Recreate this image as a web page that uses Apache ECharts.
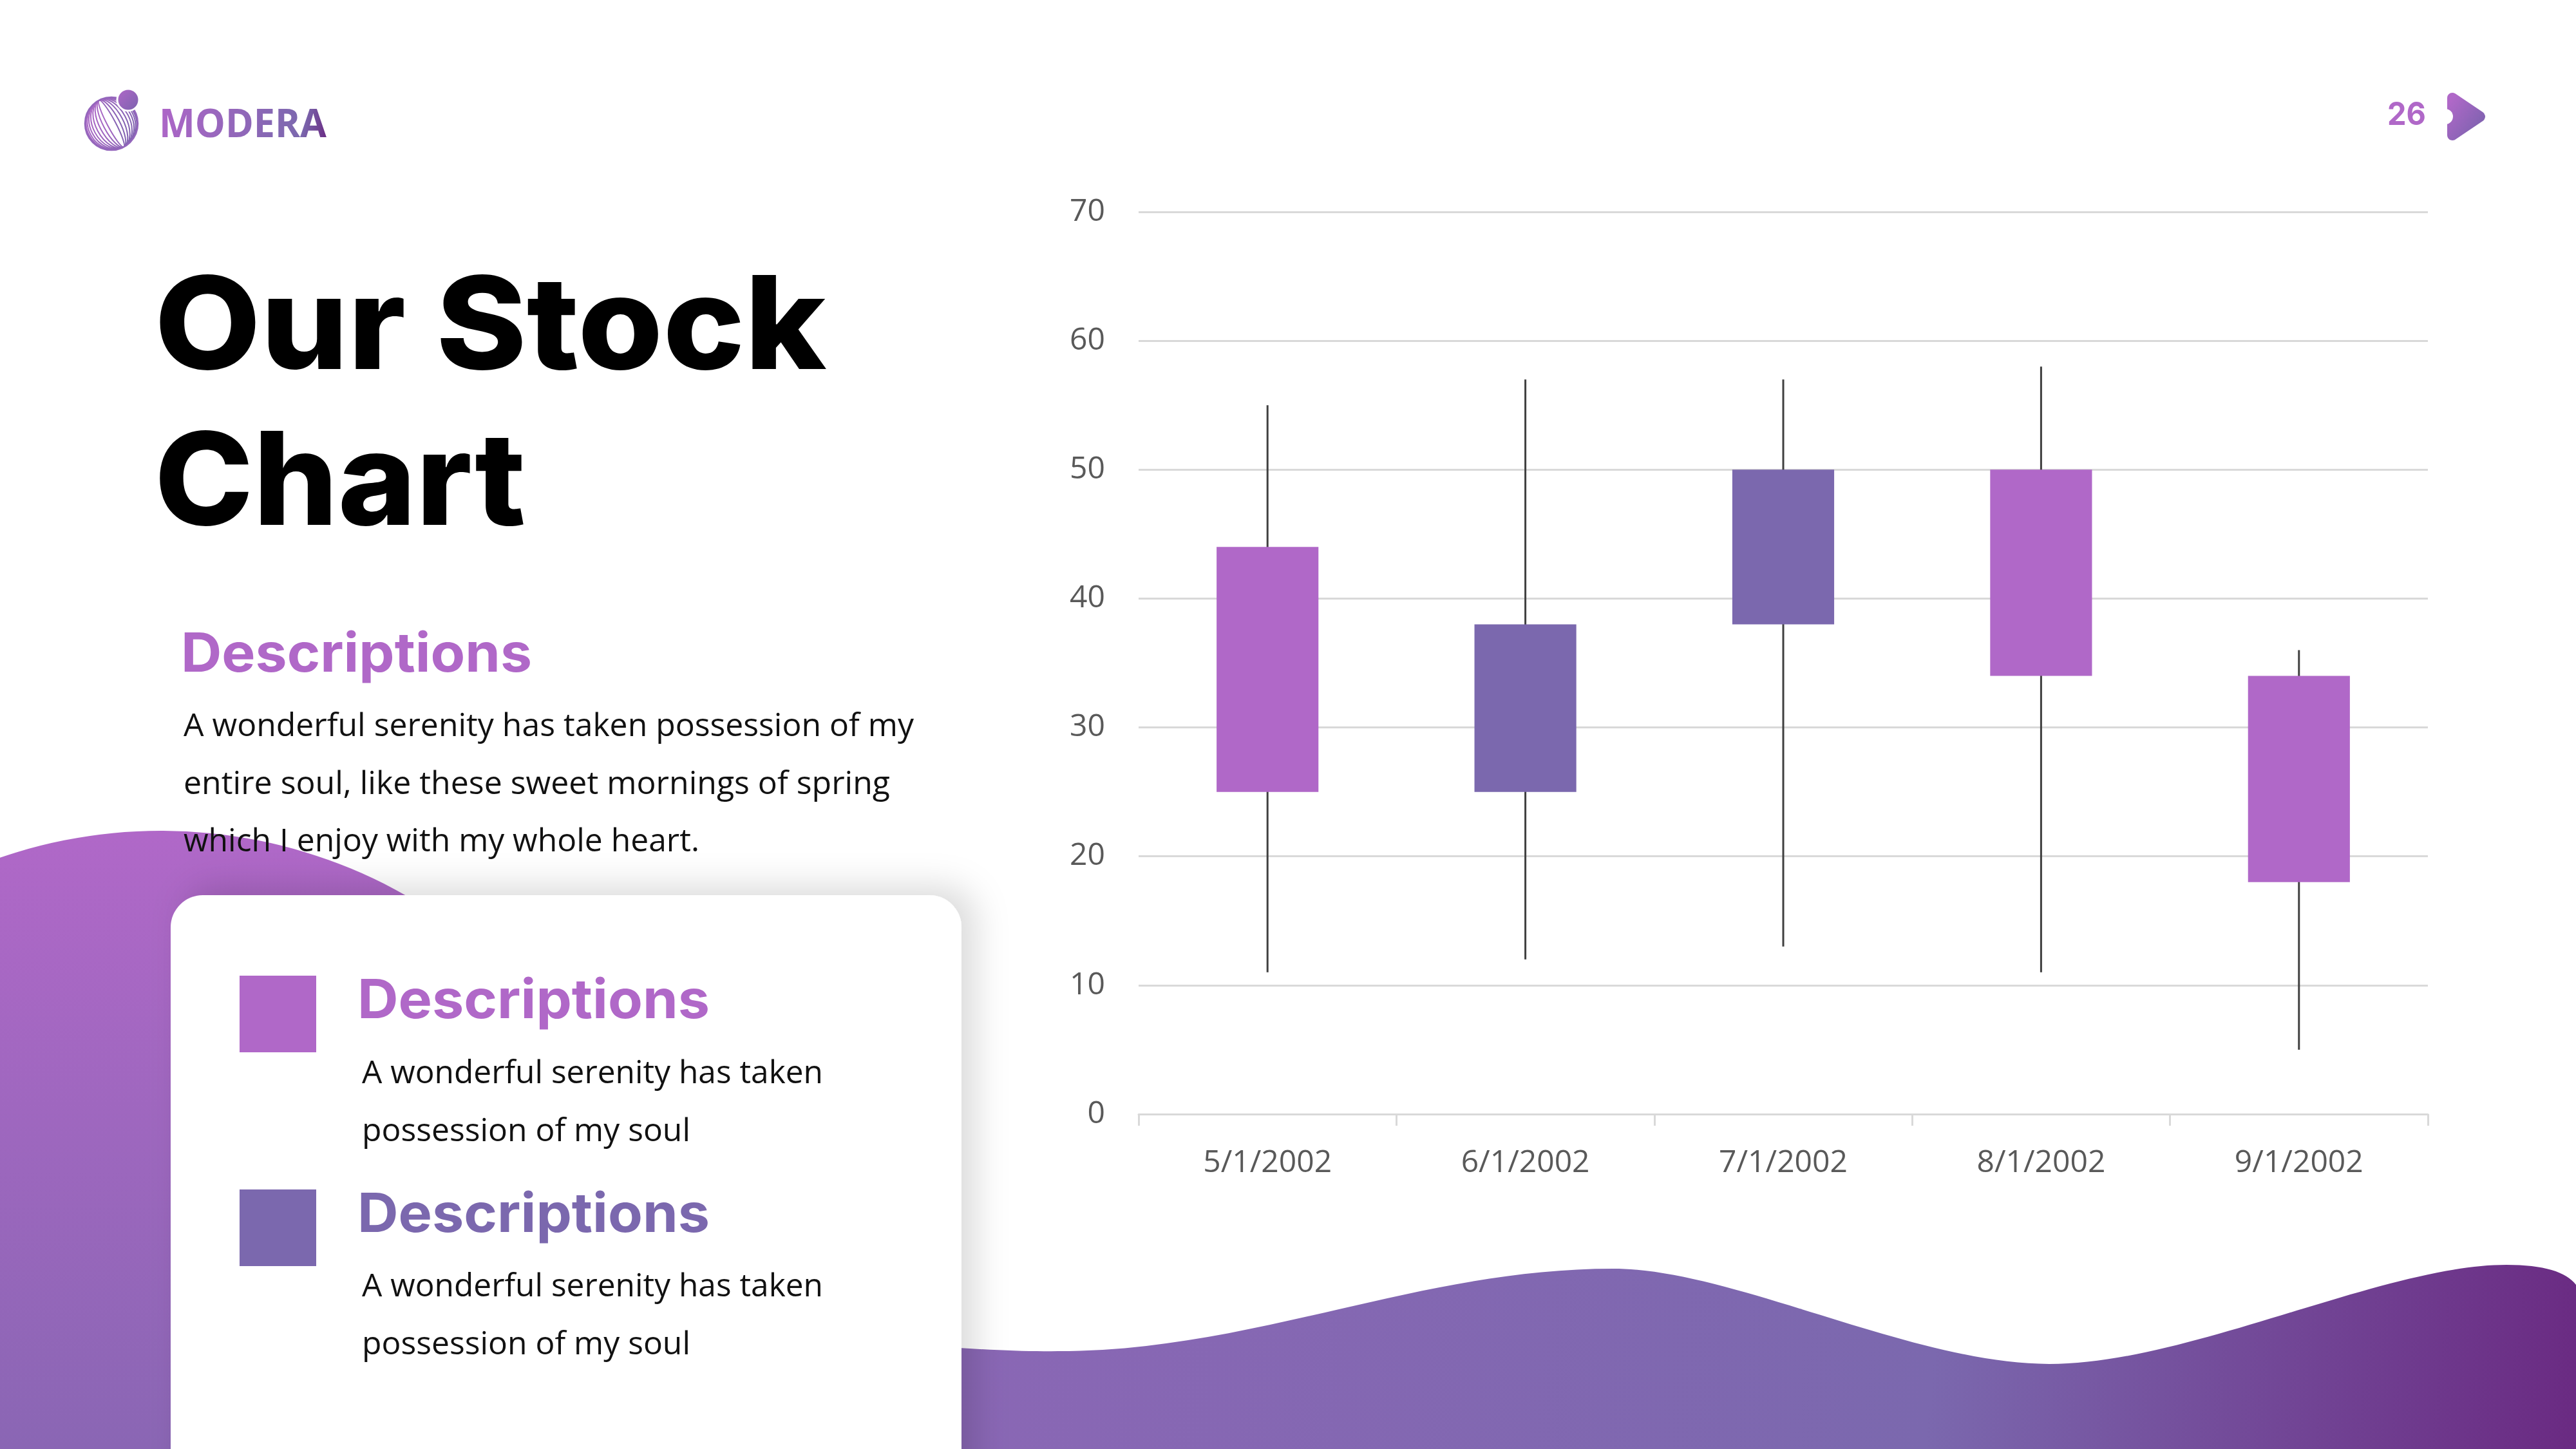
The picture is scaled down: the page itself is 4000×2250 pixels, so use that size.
<!DOCTYPE html>
<html><head><meta charset="utf-8">
<script src="https://cdn.jsdelivr.net/npm/echarts/dist/echarts.min.js"></script>
<style>
html,body{margin:0;padding:0;width:4000px;height:2250px;background:#fff;overflow:hidden}
#bg{position:absolute;left:0;top:0;z-index:0}
#chart{position:absolute;left:1500px;top:200px;width:2500px;height:1750px;z-index:1}
.h{font-family:Inter,'Open Sans',sans-serif}
.b{font-family:'Open Sans',sans-serif}
</style></head><body>
<svg id="bg" width="4000" height="2250" viewBox="0 0 4000 2250" xmlns="http://www.w3.org/2000/svg">
  <defs>
    <linearGradient id="gBlob" x1="0" y1="1290" x2="0" y2="2250" gradientUnits="userSpaceOnUse">
      <stop offset="0" stop-color="#B068C8"/><stop offset="1" stop-color="#8A66B4"/>
    </linearGradient>
    <linearGradient id="gWave" x1="1500" y1="1960" x2="4000" y2="2250" gradientUnits="userSpaceOnUse">
      <stop offset="0" stop-color="#8A67B5"/><stop offset="0.6" stop-color="#7B68AE"/><stop offset="1" stop-color="#6A2A82"/>
    </linearGradient>
    <linearGradient id="gLogo" x1="0" y1="0" x2="1" y2="1">
      <stop offset="0" stop-color="#B068C8"/><stop offset="1" stop-color="#7B62AE"/>
    </linearGradient>
    <linearGradient id="gText" x1="247" y1="170" x2="507" y2="213" gradientUnits="userSpaceOnUse">
      <stop offset="0" stop-color="#AE66C8"/><stop offset="0.85" stop-color="#7B68AE"/><stop offset="1" stop-color="#6A2C84"/>
    </linearGradient>
    <filter id="shadow" x="-20%" y="-20%" width="140%" height="140%">
      <feDropShadow dx="22" dy="-14" stdDeviation="26" flood-color="#000" flood-opacity="0.14"/>
    </filter>
    <clipPath id="globeClip"><circle cx="173" cy="192" r="41"/></clipPath>
  </defs>

  <!-- left blob -->
  <circle cx="250" cy="2060" r="770" fill="url(#gBlob)"/>
  <!-- bottom wave -->
  <path d="M1300 2080 C1450 2090 1560 2100 1643 2098 C1950 2098 2200 1970 2505 1970 C2690 1970 2970 2118 3182 2118 C3400 2118 3700 1964 3892 1964 C3950 1964 3985 1975 4000 1995 L4000 2250 L1300 2250 Z" fill="url(#gWave)"/>
  <!-- card -->
  <rect x="265" y="1390" width="1228" height="1000" rx="50" ry="50" fill="#fff" filter="url(#shadow)"/>

  <!-- logo globe -->
  <g clip-path="url(#globeClip)" fill="none" stroke="url(#gLogo)" stroke-width="2">
    <g id="mesh" transform="rotate(-28 173 192)"></g>
  </g>
  <circle cx="173" cy="192" r="41" fill="none" stroke="#9466BC" stroke-width="2.5"/>
  <circle cx="199" cy="155" r="17" fill="url(#gLogo)" stroke="#fff" stroke-width="3"/>
  <text x="247" y="213" class="b" font-size="60" font-weight="700" fill="url(#gText)" textLength="260" lengthAdjust="spacingAndGlyphs">MODERA</text>

  <!-- page number -->
  <text x="3707" y="194" class="h" font-size="50" font-weight="700" fill="#B068C8" textLength="60" lengthAdjust="spacingAndGlyphs">26</text>
  <path d="M3808 152 L3851 181 L3808 210 Z" fill="url(#gLogo)" stroke="url(#gLogo)" stroke-width="16" stroke-linejoin="round"/>
  <circle cx="3797" cy="181" r="12" fill="#fff"/>

  <!-- title -->
  <text x="240" y="573" class="h" font-size="200" font-weight="800" fill="#000" textLength="1043" lengthAdjust="spacingAndGlyphs">Our Stock</text>
  <text x="240" y="815" class="h" font-size="200" font-weight="800" fill="#000" textLength="576" lengthAdjust="spacingAndGlyphs">Chart</text>

  <!-- description -->
  <text x="281" y="1043" class="h" font-size="84" font-weight="700" fill="#B068C8" textLength="545" lengthAdjust="spacingAndGlyphs">Descriptions</text>
  <text x="285" y="1143" class="b" font-size="50" fill="#111" textLength="1134" lengthAdjust="spacingAndGlyphs">A wonderful serenity has taken possession of my</text>
  <text x="285" y="1233" class="b" font-size="50" fill="#111" textLength="1097" lengthAdjust="spacingAndGlyphs">entire soul, like these sweet mornings of spring</text>
  <text x="285" y="1322" class="b" font-size="50" fill="#111" textLength="801" lengthAdjust="spacingAndGlyphs">which I enjoy with my whole heart.</text>

  <!-- card contents -->
  <rect x="372" y="1515" width="119" height="119" fill="#B068C8"/>
  <text x="555" y="1581" class="h" font-size="84" font-weight="700" fill="#B068C8" textLength="547" lengthAdjust="spacingAndGlyphs">Descriptions</text>
  <text x="562" y="1682" class="b" font-size="50" fill="#111" textLength="716" lengthAdjust="spacingAndGlyphs">A wonderful serenity has taken</text>
  <text x="562" y="1772" class="b" font-size="50" fill="#111" textLength="510" lengthAdjust="spacingAndGlyphs">possession of my soul</text>

  <rect x="372" y="1847" width="119" height="119" fill="#7B68AE"/>
  <text x="555" y="1913" class="h" font-size="84" font-weight="700" fill="#7B68AE" textLength="547" lengthAdjust="spacingAndGlyphs">Descriptions</text>
  <text x="562" y="2013" class="b" font-size="50" fill="#111" textLength="716" lengthAdjust="spacingAndGlyphs">A wonderful serenity has taken</text>
  <text x="562" y="2103" class="b" font-size="50" fill="#111" textLength="510" lengthAdjust="spacingAndGlyphs">possession of my soul</text>
</svg>
<div id="chart"></div>
<script>
// ---- data ----
const categories = ['5/1/2002', '6/1/2002', '7/1/2002', '8/1/2002', '9/1/2002'];
const openValues  = [44, 25, 38, 50, 34];
const closeValues = [25, 38, 50, 34, 18];
const lowValues   = [11, 12, 13, 11, 5];
const highValues  = [55, 57, 57, 58, 36];
const yMin = 0, yMax = 70, yStep = 10;

const UP_COLOR = '#7B68AE';
const DOWN_COLOR = '#B068C8';

// globe mesh decoration (logo)
(function () {
  const g = document.getElementById('mesh');
  const ns = 'http://www.w3.org/2000/svg';
  const cx = 173, cy = 192, r = 41;
  for (let k = 0; k <= 9; k++) {
    const e = document.createElementNS(ns, 'ellipse');
    e.setAttribute('cx', cx); e.setAttribute('cy', cy);
    e.setAttribute('rx', Math.max(0.5, r * Math.cos(k * Math.PI / 20)));
    e.setAttribute('ry', r);
    g.appendChild(e);
  }
  for (let k = -9; k <= 9; k++) {
    const y = cy + r * Math.sin(k * Math.PI / 20);
    const l = document.createElementNS(ns, 'line');
    l.setAttribute('x1', cx - r - 5); l.setAttribute('x2', cx + r + 5);
    l.setAttribute('y1', y); l.setAttribute('y2', y);
    g.appendChild(l);
  }
})();

const seriesData = categories.map((c, i) => [i, openValues[i], closeValues[i], lowValues[i], highValues[i]]);

const chart = echarts.init(document.getElementById('chart'), null, { renderer: 'canvas' });
chart.setOption({
  animation: false,
  backgroundColor: 'transparent',
  grid: { left: 268, right: 230, top: 129, bottom: 220 },
  xAxis: {
    type: 'category',
    data: categories,
    boundaryGap: true,
    axisLine: { show: true, lineStyle: { color: '#D9D9D9', width: 3 } },
    axisTick: { show: true, alignWithLabel: false, length: 18, lineStyle: { color: '#D9D9D9', width: 3 } },
    axisLabel: { color: '#595959', fontFamily: 'Open Sans', fontSize: 48, margin: 52 },
    splitLine: { show: false }
  },
  yAxis: {
    type: 'value',
    min: yMin, max: yMax, interval: yStep,
    axisLine: { show: false },
    axisTick: { show: false },
    axisLabel: { color: '#595959', fontFamily: 'Open Sans', fontSize: 48, margin: 52 },
    splitLine: { show: true, lineStyle: { color: '#D9D9D9', width: 3 } }
  },
  series: [{
    type: 'custom',
    data: seriesData,
    encode: { x: 0, y: [1, 2, 3, 4] },
    renderItem: function (params, api) {
      const idx = api.value(0);
      const o = api.value(1), c = api.value(2), lo = api.value(3), hi = api.value(4);
      const pO = api.coord([idx, o]);
      const pC = api.coord([idx, c]);
      const pL = api.coord([idx, lo]);
      const pH = api.coord([idx, hi]);
      const w = api.size([1, 0])[0] * 0.395;
      const fill = c > o ? UP_COLOR : DOWN_COLOR;
      return {
        type: 'group',
        children: [
          { type: 'line', shape: { x1: pH[0], y1: pH[1], x2: pL[0], y2: pL[1] },
            style: { stroke: '#404040', lineWidth: 3 } },
          { type: 'rect', shape: { x: pO[0] - w / 2, y: Math.min(pO[1], pC[1]), width: w, height: Math.abs(pO[1] - pC[1]) },
            style: { fill: fill } }
        ]
      };
    }
  }]
});
</script>
</body></html>
